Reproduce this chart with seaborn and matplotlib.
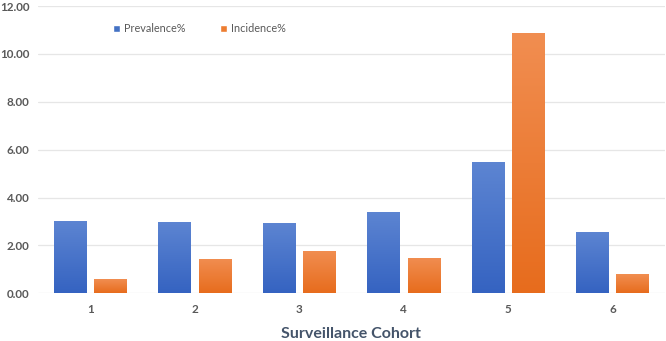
import numpy as np
import pandas as pd
import matplotlib
matplotlib.use("Agg")
import matplotlib.pyplot as plt
import seaborn as sns
from matplotlib.colors import LinearSegmentedColormap

cohorts = ["1", "2", "3", "4", "5", "6"]
prevalence = [3.03, 2.98, 2.93, 3.40, 5.50, 2.58]
incidence = [0.58, 1.44, 1.77, 1.47, 10.87, 0.79]
series = ["Prevalence%", "Incidence%"]
yticks = [0, 2, 4, 6, 8, 10, 12]

df = pd.DataFrame({
    "Cohort": cohorts * 2,
    "Value": prevalence + incidence,
    "Series": [series[0]] * len(cohorts) + [series[1]] * len(cohorts),
})

sns.set_theme(style="white")
plt.rcParams["font.family"] = ["Lato", "DejaVu Sans"]

fig = plt.figure(figsize=(6.66, 3.41), dpi=100)
ax = fig.add_axes([0.057, 0.14, 0.941, 0.842])

base = {"Prevalence%": "#4472C4", "Incidence%": "#ED7D31"}
grad = {
    "Prevalence%": ("#3563c1", "#5d85d2"),
    "Incidence%": ("#e76c1d", "#f18e51"),
}
sns.barplot(data=df, x="Cohort", y="Value", hue="Series", hue_order=series,
            palette=base, width=0.77, gap=0.2, ax=ax, zorder=3,
            saturation=1, legend=True)

# gradient fill on bars
for container, s in zip(ax.containers, series):
    cmap = LinearSegmentedColormap.from_list(s, list(grad[s]))
    for p in container.patches:
        x0, y0 = p.get_x(), p.get_y()
        w, h = p.get_width(), p.get_height()
        g = np.linspace(0, 1, 256).reshape(-1, 1)
        im = ax.imshow(g, cmap=cmap, aspect="auto", origin="lower",
                       extent=[x0, x0 + w, y0, y0 + h], zorder=3.5)
        im.set_clip_path(p)
        p.set_edgecolor("none")

ax.set_xlim(-0.5, 5.5)
ax.set_ylim(0, 12)
ax.set_yticks(yticks)
ax.set_yticklabels([f"{v:.2f}" for v in yticks])
ax.yaxis.grid(True, color="#e6e6e6", linewidth=0.9, zorder=0)
ax.set_axisbelow(True)
for sp in ax.spines.values():
    sp.set_visible(False)
ax.tick_params(axis="both", length=0, labelsize=8.4, labelcolor="#595959")
ax.tick_params(axis="y", pad=6)
ax.tick_params(axis="x", pad=7.5)
for lab in ax.get_xticklabels() + ax.get_yticklabels():
    lab.set_fontweight("bold")
ax.set_ylabel("")
ax.set_xlabel("Surveillance Cohort", fontsize=11.5, fontweight="bold",
              color="#44546A", labelpad=9)

handles, labels = ax.get_legend_handles_labels()
leg = ax.legend(handles, labels, loc="upper left", bbox_to_anchor=(0.104, 0.975),
                ncol=2, frameon=False, fontsize=7.8, handlelength=0.65,
                handleheight=0.65, handletextpad=0.35, columnspacing=3.2,
                labelcolor="#595959")

fig.savefig("out.png", dpi=100, facecolor="white")
